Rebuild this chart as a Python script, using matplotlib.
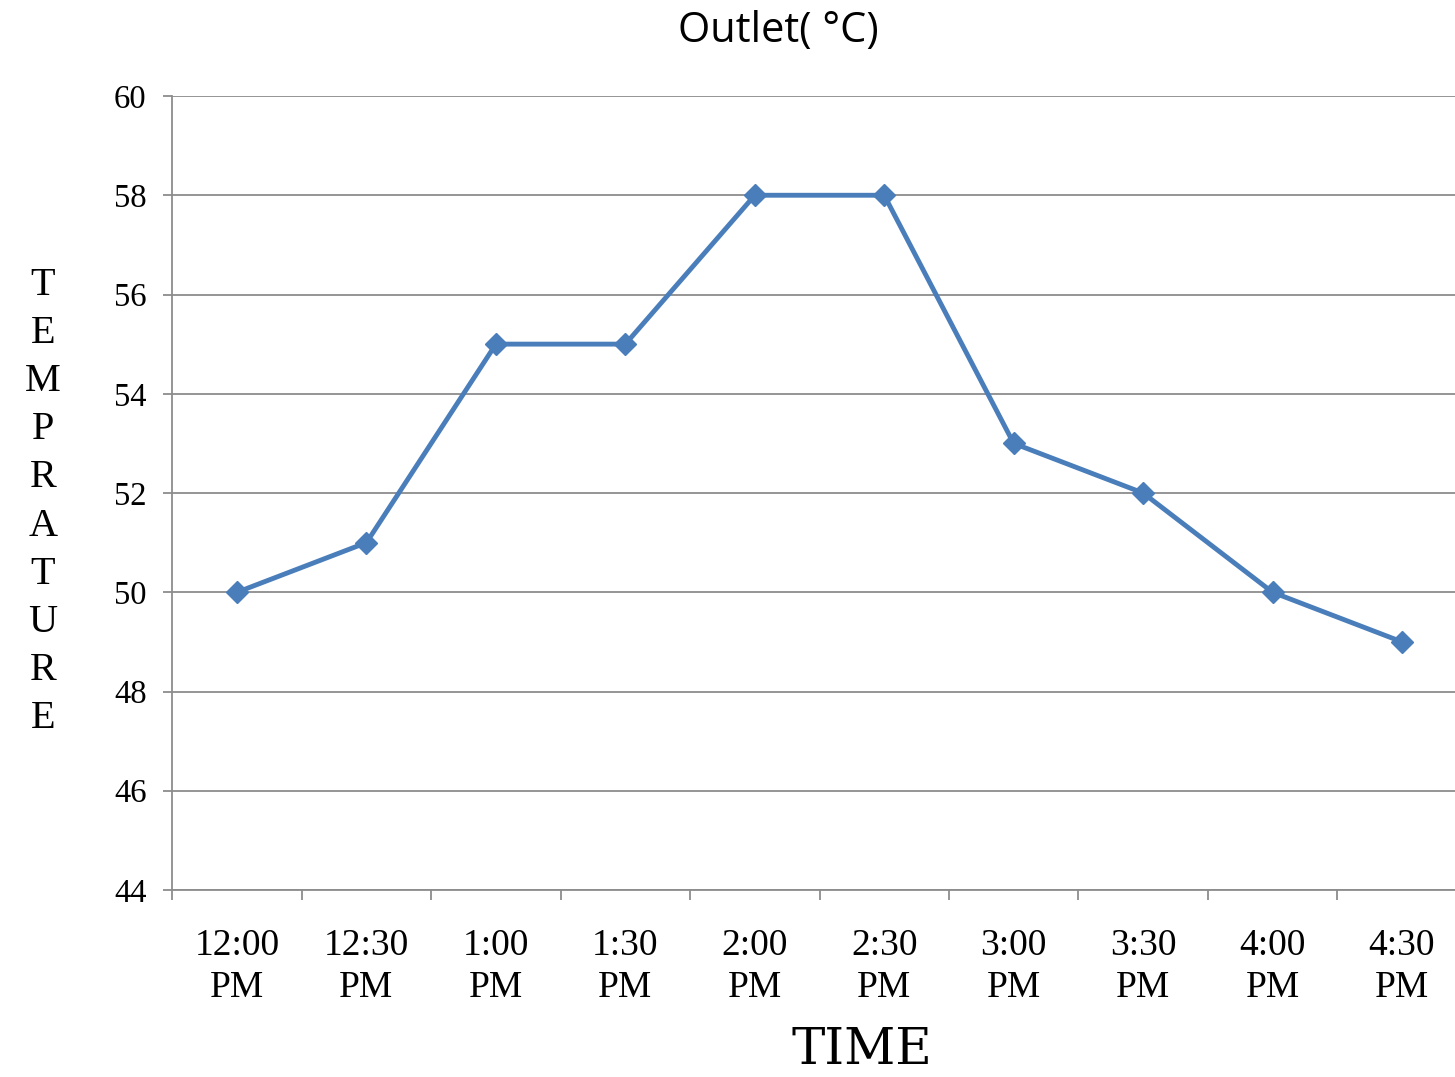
import matplotlib
matplotlib.use("Agg")
import matplotlib.pyplot as plt
from matplotlib.ticker import FixedLocator

times = ["12:00\nPM", "12:30\nPM", "1:00\nPM", "1:30\nPM", "2:00\nPM",
         "2:30\nPM", "3:00\nPM", "3:30\nPM", "4:00\nPM", "4:30\nPM"]
outlet = [50, 51, 55, 55, 58, 58, 53, 52, 50, 49]
yticks = [44, 46, 48, 50, 52, 54, 56, 58, 60]

W, H = 1455, 1077
fig = plt.figure(figsize=(W / 100, H / 100), dpi=100)
ax = fig.add_axes([172.3 / W, 1 - 890 / H, 1294.4 / W, 794 / H])

x = list(range(len(outlet)))
grid_c = "#8c8c8c"
ax.plot(x, outlet, color="#4a7ebb", lw=3.5, marker="D", ms=11.5,
        mfc="#4a7ebb", mec="#4a7ebb", zorder=3, clip_on=False)

ax.set_xlim(-0.5, len(outlet) - 0.5)
ax.set_ylim(44, 60)
ax.set_yticks(yticks)
ax.set_yticklabels([str(v) for v in yticks], fontfamily="Liberation Serif", fontsize=23.5)
ax.set_xticks(x)
ax.set_xticklabels(times, fontfamily="Liberation Serif", fontsize=27,
                   linespacing=1.28, multialignment="center")
ax.xaxis.set_minor_locator(FixedLocator([i - 0.5 for i in range(len(outlet) + 1)]))
ax.tick_params(axis="x", which="major", length=0, pad=28)
ax.tick_params(axis="x", which="minor", length=7, width=1.3, color=grid_c, direction="out")
ax.tick_params(axis="y", which="major", length=6.5, width=1.3, color=grid_c, pad=12)

ax.grid(axis="y", color=grid_c, lw=1.3)
ax.set_axisbelow(True)
for s in ["top", "right"]:
    ax.spines[s].set_visible(False)
for s in ["left", "bottom"]:
    ax.spines[s].set_color(grid_c)
    ax.spines[s].set_linewidth(1.3)

fig.text(778 / W, 1 - 31 / H, "Outlet( °C)", ha="center", va="center",
         fontfamily="Open Sans", fontsize=30)
fig.text(43 / W, 1 - 502 / H, "\n".join("TEMPRATURE"), ha="center", va="center",
         fontfamily="Liberation Serif", fontsize=29, linespacing=1.40,
         multialignment="center")
fig.text(862 / W, 1 - 1064 / H, "TIME", ha="center", va="baseline",
         fontfamily="DejaVu Serif", fontsize=36)

fig.savefig("out.png", dpi=100)
